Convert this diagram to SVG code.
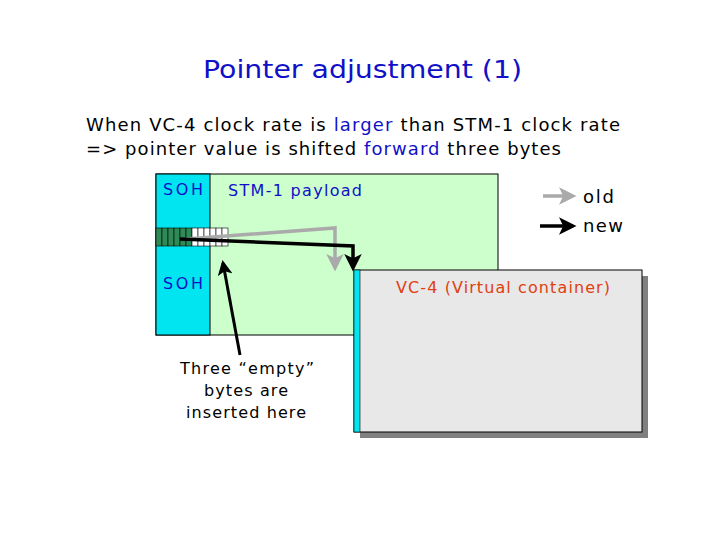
<svg xmlns="http://www.w3.org/2000/svg" width="720" height="540" viewBox="0 0 720 540">
<style>
text{font-family:"DejaVu Sans",Verdana,sans-serif}
.b{fill:#1010c8}
.k{fill:#000}
.dk{fill:#2e8b57;stroke:#000;stroke-width:0.6}
.wh{fill:#fff;stroke:#000;stroke-width:0.6}
</style>
<defs>
<marker id="ag" markerWidth="5" markerHeight="5" refX="4" refY="2.5" orient="auto" markerUnits="strokeWidth"><path d="M0,0L5,2.5L0,5L1.2,2.5z" fill="#aaa"/></marker>
<marker id="ak" markerWidth="5" markerHeight="5" refX="4" refY="2.5" orient="auto" markerUnits="strokeWidth"><path d="M0,0L5,2.5L0,5L1.2,2.5z" fill="#000"/></marker>
</defs>
<rect width="720" height="540" fill="#fff"/>
<text x="203" y="78" font-size="25" textLength="319" lengthAdjust="spacingAndGlyphs" class="b">Pointer adjustment (1)</text>
<text x="86" y="131" font-size="18" textLength="534" class="k">When VC-4 clock rate is <tspan class="b">larger</tspan> than STM-1 clock rate</text>
<text x="86" y="155" font-size="18" textLength="475" class="k">=&gt; pointer value is shifted <tspan class="b">forward</tspan> three bytes</text>
<g id="stm">
<rect x="156" y="174" width="342" height="161" fill="#ccffcc" stroke="#000"/>
<rect x="156" y="174" width="54" height="161" fill="#00e5f0" stroke="#000"/>
<text x="163" y="195" font-size="16" textLength="40" class="b">SOH</text>
<text x="163" y="289" font-size="16" textLength="40" class="b">SOH</text>
<text x="228" y="196" font-size="16" textLength="134" class="b">STM-1 payload</text>
</g>
<g id="ptr">
<rect class="dk" x="156" y="228" width="6" height="18"/><rect class="dk" x="162" y="228" width="6" height="18"/><rect class="dk" x="168" y="228" width="6" height="18"/><rect class="dk" x="174" y="228" width="6" height="18"/><rect class="dk" x="180" y="228" width="6" height="18"/><rect class="dk" x="186" y="228" width="6" height="18"/>
<rect class="wh" x="192" y="228" width="6" height="18"/><rect class="wh" x="198" y="228" width="6" height="18"/><rect class="wh" x="204" y="228" width="6" height="18"/><rect class="wh" x="210" y="228" width="6" height="18"/><rect class="wh" x="216" y="228" width="6" height="18"/><rect class="wh" x="222" y="228" width="6" height="18"/>
</g>
<g id="vc4">
<rect x="360" y="276" width="288" height="162" fill="#808080"/>
<rect x="354" y="270" width="288" height="162" fill="#e8e8e8" stroke="#000"/>
<rect x="354" y="270" width="6" height="162" fill="#00e5f0" stroke="#000" stroke-width="0.6"/>
<text x="396" y="293" font-size="16" textLength="214" fill="#e04010">VC-4 (Virtual container)</text>
</g>
<g id="note">
<text x="180" y="374" font-size="16" textLength="134" class="k">Three “empty”</text>
<text x="204" y="396" font-size="16" textLength="84" class="k">bytes are</text>
<text x="186" y="418" font-size="16" textLength="120" class="k">inserted here</text>
</g>
<g id="legend">
<text x="583" y="203" font-size="18" textLength="31" class="k">old</text>
<text x="583" y="232" font-size="18" textLength="40" class="k">new</text>
</g>
<g id="connectors" fill="none">
<polyline points="186,239 335,228 335,268" stroke="#aaa" stroke-width="3.5" marker-end="url(#ag)"/>
<polyline points="180,239 353,246 353,268" stroke="#000" stroke-width="3.5" marker-end="url(#ak)"/>
<line x1="240" y1="355" x2="223" y2="263" stroke="#000" stroke-width="3" marker-end="url(#ak)"/>
<line x1="543" y1="196" x2="573" y2="196" stroke="#aaa" stroke-width="3.5" marker-end="url(#ag)"/>
<line x1="540" y1="226" x2="573" y2="226" stroke="#000" stroke-width="3.5" marker-end="url(#ak)"/>
</g>
</svg>
